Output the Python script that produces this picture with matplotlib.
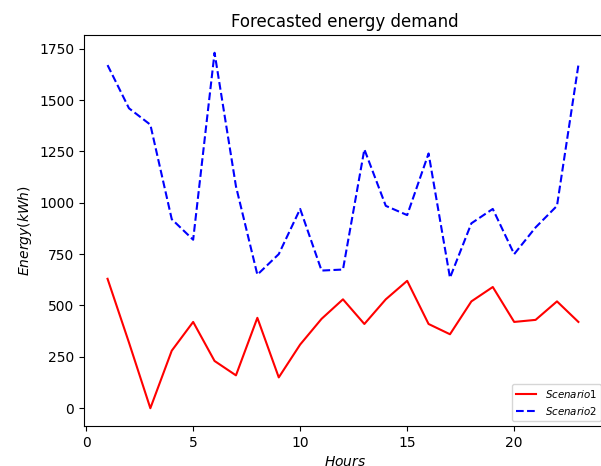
import matplotlib
matplotlib.use("Agg")
import matplotlib.pyplot as plt

hours = list(range(1, 24))
scenario1 = [630, 320, 0, 280, 420, 230, 160, 440, 150, 310, 435, 530,
             410, 530, 620, 410, 360, 520, 590, 420, 430, 520, 420]
scenario2 = [1670, 1460, 1380, 920, 820, 1730, 1080, 650, 750, 970, 670, 675,
             1260, 985, 940, 1240, 635, 900, 970, 750, 880, 985, 1670]

W, H = 601, 466
fig = plt.figure(figsize=(W / 100, H / 100), dpi=100)
ax = fig.add_axes([84 / W, (H - 426) / H, (606 - 84) / W, (426 - 35) / H])

ax.plot(hours, scenario1, color="red", linestyle="-", linewidth=1.5, label="$Scenario1$")
ax.plot(hours, scenario2, color="blue", linestyle="--", linewidth=1.5, label="$Scenario2$")

ax.set_xlim(-0.1, 24.29)
ax.set_title("Forecasted energy demand", fontsize=12)
ax.set_xlabel("$Hours$", fontsize=10)
ax.set_ylabel("$Energy(kWh)$", fontsize=10)
ax.set_xticks([0, 5, 10, 15, 20])
ax.set_yticks([0, 250, 500, 750, 1000, 1250, 1500, 1750])
ax.legend(loc="lower right", fontsize=7.4)

fig.savefig("out.png", dpi=100)
